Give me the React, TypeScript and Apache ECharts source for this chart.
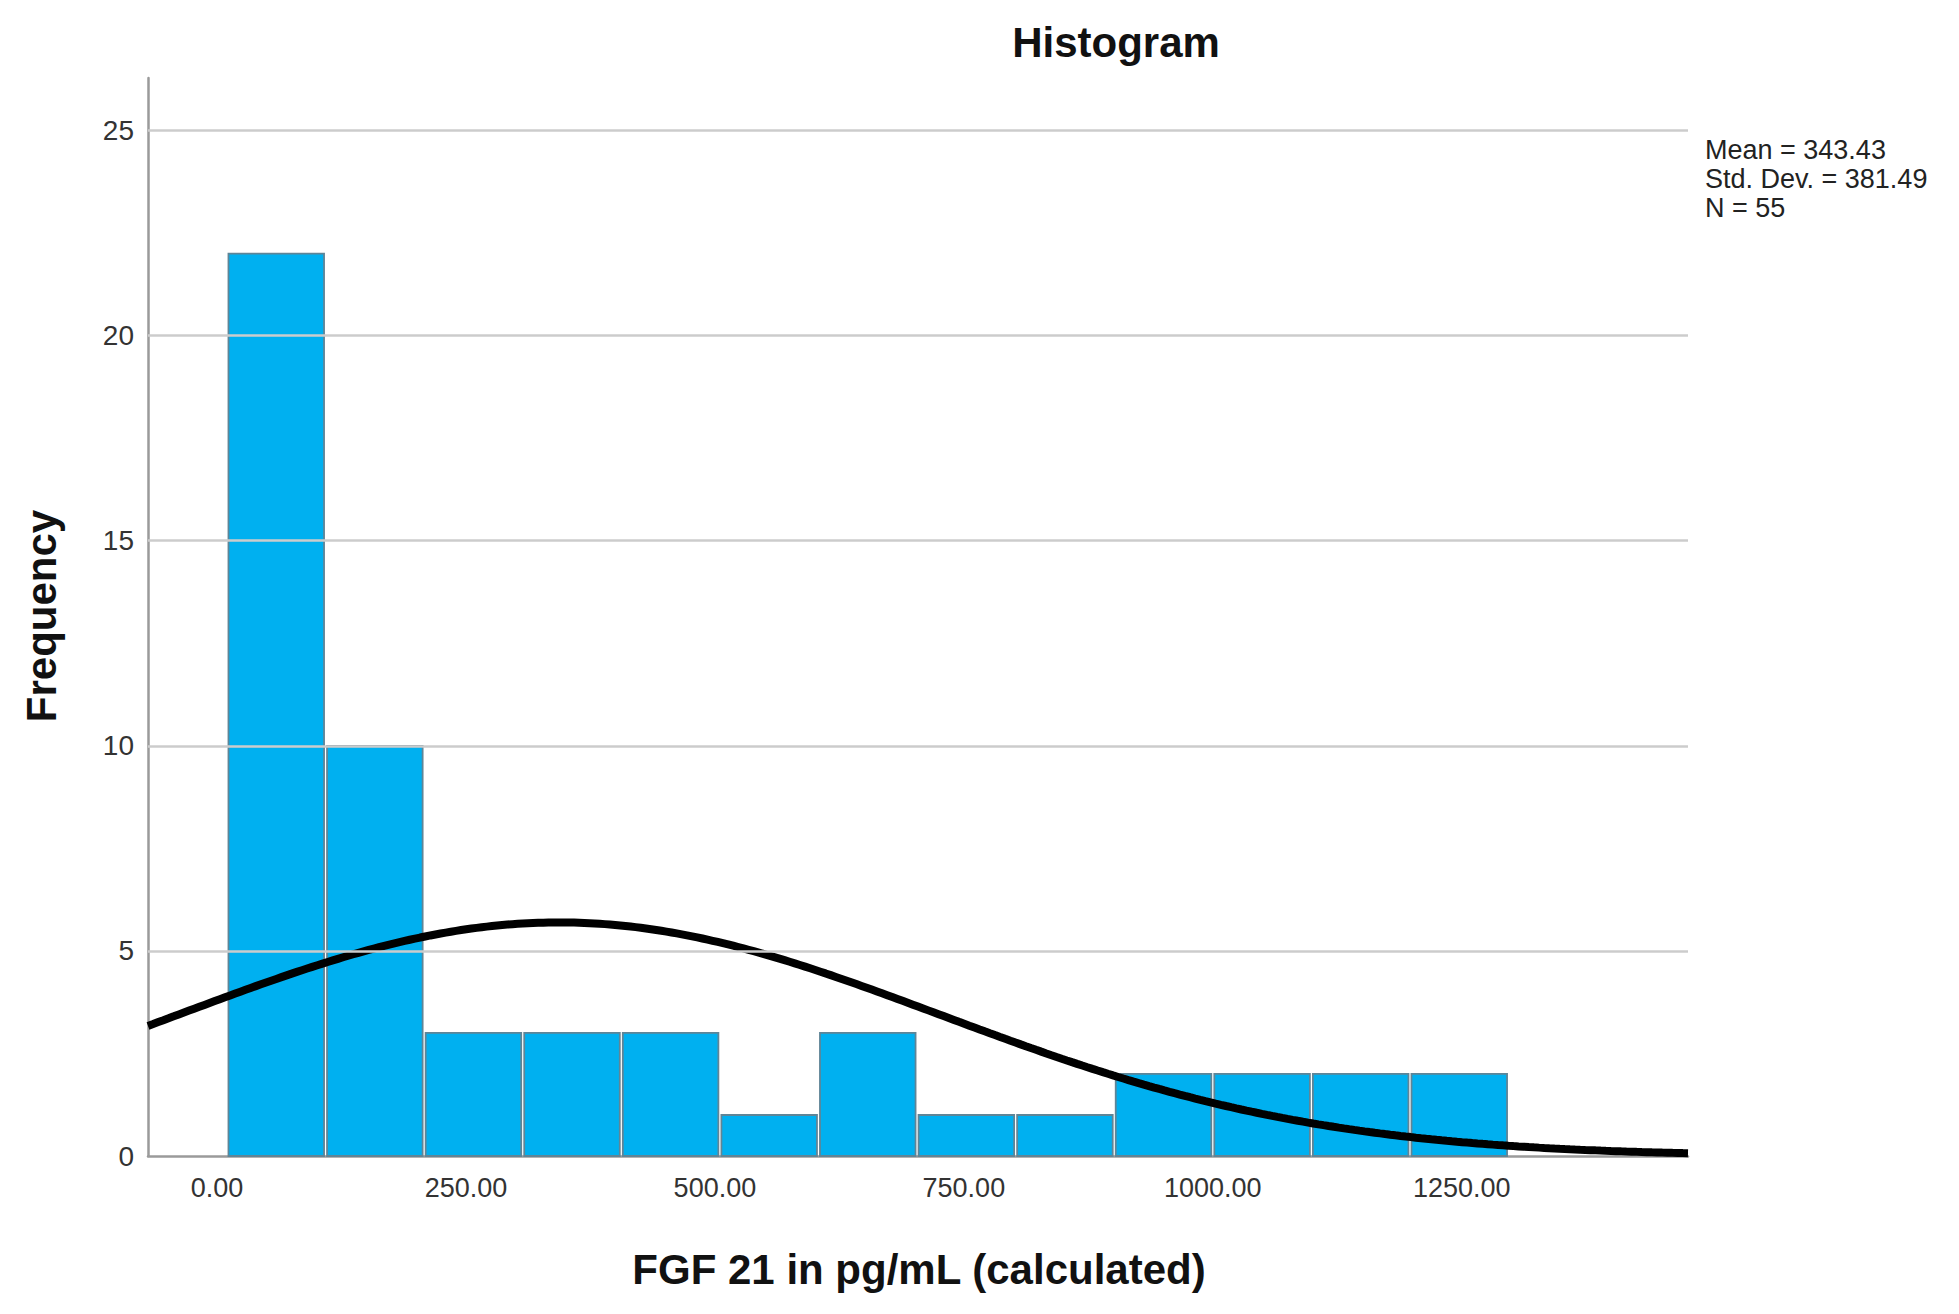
import React, { useEffect, useRef } from "react";
import * as echarts from "echarts";

// Histogram data
const binStart = 10;
const binWidth = 99;
const counts = [22, 10, 3, 3, 3, 1, 3, 1, 1, 2, 2, 2, 2];

// Summary statistics shown on the chart
const mean = 343.43;
const stdDev = 381.49;
const n = 55;

// Axis settings
const xMin = -69.3;
const xMax = 1477.2;
const xTickValues = [0, 250, 500, 750, 1000, 1250];
const yMax = 26.28;
const yGridValues = [5, 10, 15, 20, 25];

const FONT = "'Liberation Sans', Arial, Helvetica, sans-serif";

export default function App() {
  const ref = useRef<HTMLDivElement>(null);

  useEffect(() => {
    if (!ref.current) return;
    const chart = echarts.init(ref.current, null, { renderer: "svg" });

    const bins = counts.map((c, i) => [binStart + i * binWidth, binStart + (i + 1) * binWidth, c]);

    // Normal curve fitted to the stated mean / SD / N (as drawn by SPSS)
    const curve: number[][] = [];
    const steps = 300;
    for (let i = 0; i <= steps; i++) {
      const x = xMin + ((xMax - xMin) * i) / steps;
      const z = (x - mean) / stdDev;
      const y = (n * binWidth * Math.exp(-0.5 * z * z)) / (stdDev * Math.sqrt(2 * Math.PI));
      curve.push([x, y]);
    }

    const option: any = {
      animation: false,
      backgroundColor: "#ffffff",
      grid: { left: 148, top: 78, right: 271, bottom: 158, containLabel: false },
      xAxis: {
        type: "value",
        min: xMin,
        max: xMax,
        axisLine: { show: true, onZero: true, lineStyle: { color: "#9a9a9a", width: 2.5 } },
        axisTick: { show: false },
        splitLine: { show: false },
        axisLabel: {
          customValues: xTickValues,
          formatter: (v: number) => v.toFixed(2),
          color: "#333333",
          fontSize: 27,
          fontFamily: FONT,
          margin: 18,
        },
      },
      yAxis: {
        type: "value",
        min: 0,
        max: yMax,
        axisLine: { show: true, onZero: false, lineStyle: { color: "#9a9a9a", width: 2.5 } },
        axisTick: { show: false },
        splitLine: { show: false },
        axisLabel: {
          formatter: (v: number) => (Math.abs(v % 5) < 1e-9 ? String(v) : ""),
          showMaxLabel: false,
          color: "#333333",
          fontSize: 28,
          fontFamily: FONT,
          margin: 14,
        },
      },
      series: [
        {
          type: "line",
          data: [],
          z: 1,
          silent: true,
          markLine: {
            silent: true,
            symbol: "none",
            label: { show: false },
            lineStyle: { color: "#cccccc", width: 2.5, type: "solid" },
            data: yGridValues.map((v) => ({ yAxis: v })),
          },
        },
        {
          type: "custom",
          z: 2,
          data: bins,
          encode: { x: [0, 1], y: 2 },
          renderItem: (params: any, api: any) => {
            const p0 = api.coord([api.value(0), 0]);
            const p1 = api.coord([api.value(1), api.value(2)]);
            return {
              type: "rect",
              shape: {
                x: p0[0] + 1.5,
                y: p1[1],
                width: p1[0] - p0[0] - 3,
                height: p0[1] - p1[1],
              },
              style: { fill: "#00b0f0", stroke: "#5f8597", lineWidth: 1.8 },
            };
          },
        },
        {
          type: "line",
          z: 3,
          data: curve,
          showSymbol: false,
          smooth: false,
          silent: true,
          lineStyle: { color: "#000000", width: 8 },
        },
      ],
      graphic: [
        {
          type: "text",
          x: 1116,
          y: 42,
          style: {
            text: "Histogram",
            fontSize: 42,
            fontWeight: "bold",
            fontFamily: FONT,
            fill: "#111111",
            align: "center",
            verticalAlign: "middle",
          },
        },
        {
          type: "text",
          x: 41,
          y: 616,
          rotation: Math.PI / 2,
          style: {
            text: "Frequency",
            fontSize: 42,
            fontWeight: "bold",
            fontFamily: FONT,
            fill: "#111111",
            align: "center",
            verticalAlign: "middle",
          },
        },
        {
          type: "text",
          x: 919,
          y: 1269,
          style: {
            text: "FGF 21 in pg/mL (calculated)",
            fontSize: 42,
            fontWeight: "bold",
            fontFamily: FONT,
            fill: "#111111",
            align: "center",
            verticalAlign: "middle",
          },
        },
        {
          type: "text",
          left: 1705,
          top: 135,
          style: {
            text: `Mean = ${mean.toFixed(2)}\nStd. Dev. = ${stdDev.toFixed(2)}\nN = ${n}`,
            fontSize: 27,
            lineHeight: 29,
            fontFamily: FONT,
            fill: "#222222",
          },
        },
      ],
    };

    chart.setOption(option);
    return () => chart.dispose();
  }, []);

  return (
    <div
      ref={ref}
      style={{ position: "fixed", left: 0, top: 0, width: "1959px", height: "1314px", background: "#fff" }}
    />
  );
}
